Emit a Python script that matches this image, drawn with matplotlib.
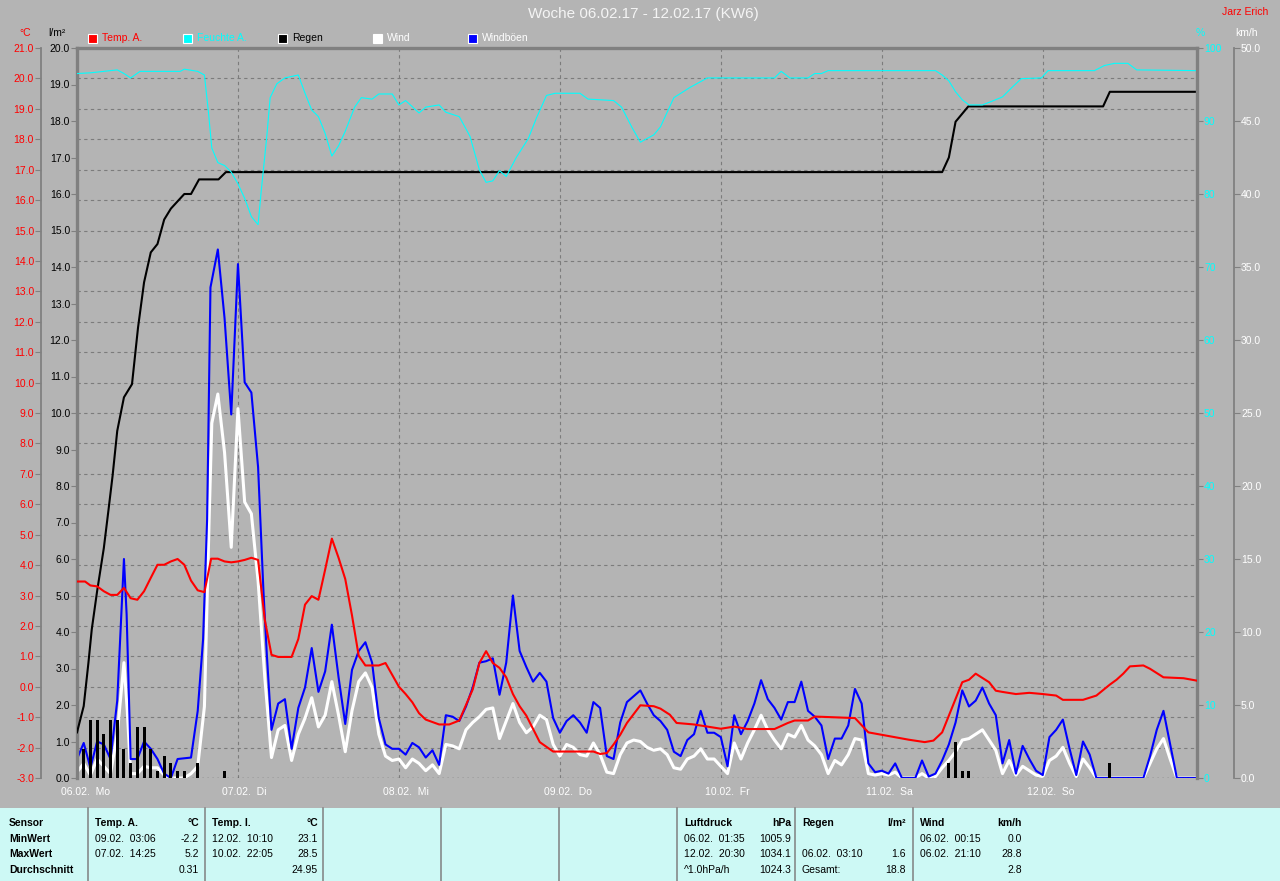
import matplotlib
matplotlib.use("Agg")
import matplotlib.pyplot as plt
from matplotlib.patches import Rectangle
from matplotlib.lines import Line2D
from matplotlib.transforms import offset_copy

plt.rcParams['font.family'] = ['Liberation Sans', 'DejaVu Sans']

# ---- Daten (Stunden ab 06.02. 00:00) ----
day_labels = ["06.02.  Mo", "07.02.  Di", "08.02.  Mi", "09.02.  Do", "10.02.  Fr", "11.02.  Sa", "12.02.  So"]
day_hours = [0, 24, 48, 72, 96, 120, 144]

temp_hours = [0, 1.2, 2, 3, 4, 5, 6, 7, 8, 9, 10, 11, 12, 13, 14, 15, 16, 17, 18, 19, 20, 21, 22, 23, 24, 25, 26, 27,
              28, 29, 30, 32, 33, 34, 35, 36, 37, 38, 39, 40, 41, 42, 43, 45, 46, 47, 48, 49, 50, 51, 52, 53, 54, 55.5,
              57, 59, 60, 61, 62, 63, 64, 65, 66, 67, 69, 71, 77, 78, 79, 80, 81, 82, 84, 86, 87, 88.4, 89.4, 92, 94,
              96, 98, 100, 104, 106, 107, 109, 110, 116, 118, 120, 122, 124, 126.4, 127.7, 129, 130, 132, 133, 134,
              136, 137, 138, 140, 142, 144, 146, 147, 150, 152, 154, 155, 156, 157, 159, 160, 162, 165, 167]
temp_vals = [3.46, 3.46, 3.33, 3.30, 3.14, 3.02, 3.02, 3.25, 2.91, 2.86, 3.14, 3.58, 4.01, 4.01, 4.12, 4.20, 4.01, 3.49,
             3.17, 3.11, 4.21, 4.21, 4.12, 4.09, 4.12, 4.17, 4.24, 4.17, 2.20, 1.05, 0.98, 0.98, 1.57, 2.70, 2.98, 2.86,
             3.85, 4.87, 4.24, 3.54, 2.35, 1.02, 0.70, 0.70, 0.78, 0.39, 0.0, -0.24, -0.51, -0.87, -1.08, -1.16, -1.24,
             -1.24, -1.11, -0.09, 0.78, 1.17, 0.78, 0.62, 0.31, -0.24, -0.64, -0.95, -1.82, -2.13, -2.13, -2.21, -2.18,
             -1.90, -1.58, -1.19, -0.61, -0.64, -0.72, -0.92, -1.19, -1.24, -1.31, -1.38, -1.31, -1.39, -1.39, -1.19,
             -1.11, -1.11, -0.98, -1.03, -1.50, -1.58, -1.66, -1.74, -1.82, -1.77, -1.50, -0.95, 0.15, 0.23, 0.43, 0.15,
             -0.13, -0.17, -0.24, -0.20, -0.24, -0.29, -0.43, -0.43, -0.29, 0.07, 0.23, 0.43, 0.67, 0.70, 0.59, 0.31,
             0.28, 0.20]

hum_hours = [0, 2, 4, 6, 7, 8, 9.4, 12, 15.4, 16, 18, 19, 19.6, 20.1, 21, 22, 23, 24, 25, 26, 27, 27.5, 28.3, 28.8,
             29.8, 31, 33, 34, 35, 36, 37, 38, 39, 40, 41.4, 42.4, 44, 45, 47, 48, 49, 51, 52, 54, 55, 57, 58.6, 60,
             61, 62, 63, 64, 65.5, 67.3, 68.5, 70, 71.3, 75, 76.2, 80, 81.2, 82.7, 84, 86, 87, 89, 91.4, 94, 104, 105,
             106.3, 109, 110, 111, 112, 128, 129, 130, 131, 132, 133, 135, 136.4, 138, 139.3, 140.8, 143.8, 144.8,
             151.7, 153.2, 154.7, 156.7, 158, 167]
hum_vals = [96.5, 96.6, 96.8, 97.0, 96.5, 95.9, 96.8, 96.8, 96.8, 97.1, 96.8, 96.3, 91.2, 86.3, 84.3, 83.9, 83.0, 81.4,
            79.4, 76.9, 75.8, 80.7, 87.9, 93.2, 95.1, 95.9, 96.3, 93.8, 91.5, 90.6, 88.3, 85.2, 86.6, 88.6, 91.9, 93.2,
            93.0, 93.7, 93.7, 92.2, 92.8, 91.1, 91.9, 92.2, 91.2, 90.6, 87.9, 83.3, 81.6, 81.8, 83.2, 82.4, 85.0, 87.6,
            90.4, 93.5, 93.8, 93.8, 93.0, 92.8, 91.9, 89.2, 87.1, 88.1, 89.2, 93.2, 94.6, 95.9, 95.9, 96.8, 95.9, 95.9,
            96.5, 96.5, 96.9, 96.9, 96.3, 95.5, 94.0, 92.9, 92.2, 92.2, 92.7, 93.3, 94.5, 95.8, 95.9, 96.9, 96.9, 97.6,
            97.9, 97.9, 97.0, 96.9]

rain_sum_hours = [0, 1, 1.7, 2.2, 3, 4, 4.7, 5.3, 6, 7, 8.2, 9.1, 10, 11, 12, 13, 14, 15, 16, 17, 18.2, 21.1, 22.2,
                  129, 130, 131, 132.9, 153, 154, 167]
rain_sum = [1.25, 1.97, 3.15, 4.07, 5.12, 6.30, 7.35, 8.27, 9.51, 10.43, 10.79, 12.34, 13.58, 14.4, 14.63, 15.3, 15.6,
            15.8, 16.0, 16.0, 16.4, 16.4, 16.6, 16.6, 17.0, 17.98, 18.4, 18.4, 18.8, 18.8]

rain_bar_hours = [1, 2, 3, 4, 5, 6, 7, 8, 9, 10, 11, 12, 13, 14, 15, 16, 18, 22, 130, 131, 132, 133, 154]
rain_bar_vals = [0.8, 1.6, 1.6, 1.2, 1.6, 1.6, 0.8, 0.4, 1.4, 1.4, 0.8, 0.2, 0.6, 0.4, 0.2, 0.2, 0.4, 0.2,
                 0.4, 1.0, 0.2, 0.2, 0.4]

gust_hours = [0, 1, 2, 3, 4, 5, 6, 7, 7.4, 8, 9, 10, 11, 12, 13, 14, 15, 17, 18, 18.8, 19.4, 19.9, 21, 22, 23, 24, 25,
              26, 27, 27.8, 28.3, 29, 30, 31, 32, 33, 34, 35, 36, 37, 38, 39, 40, 41, 42, 43, 44, 45, 46, 47, 48, 49,
              50, 51, 52, 53, 54, 55, 56, 57, 58, 59, 60, 61, 62, 63, 64, 65, 66, 67, 68, 69, 70, 71, 72, 73, 74, 75,
              76, 77, 78, 79, 80, 81, 82, 83, 84, 85, 86, 87, 88, 89, 90, 91, 92, 93, 94, 95, 96, 97, 98, 99, 100,
              101, 102, 103, 104, 105, 106, 107, 108, 109, 110, 111, 112, 113, 114, 115, 116, 117, 118, 119, 120, 121,
              122, 123, 125, 126, 127, 128, 129, 130, 131, 132, 133, 134, 135, 136, 137, 138, 139, 140, 141, 142, 143,
              144, 145, 146, 147, 148, 149, 150, 151, 152, 159, 160, 161, 162, 163, 164, 167]
gust_vals = [1.3, 2.4, 0.7, 2.5, 2.3, 1.3, 5.3, 15.0, 11.2, 1.3, 1.3, 2.5, 2.0, 1.3, 0.3, 0.0, 1.3, 1.4, 4.6, 9.5, 17.7,
             33.6, 36.2, 31.5, 24.9, 35.2, 27.1, 26.4, 21.3, 12.8, 8.5, 3.3, 5.1, 5.4, 2.0, 4.8, 6.2, 8.9, 5.9, 7.3,
             10.5, 6.9, 3.7, 7.4, 8.7, 9.3, 7.9, 4.1, 2.3, 2.0, 2.0, 1.6, 2.4, 2.1, 1.4, 1.9, 0.9, 4.3, 4.2, 3.9, 4.9,
             6.2, 7.9, 8.0, 8.2, 5.7, 7.9, 12.5, 8.7, 7.6, 6.6, 7.2, 6.6, 4.1, 3.1, 3.9, 4.3, 3.8, 3.1, 5.2, 4.8, 1.5,
             1.3, 3.8, 5.2, 5.6, 6.0, 5.1, 4.3, 3.9, 3.3, 1.8, 1.5, 2.6, 3.0, 4.6, 3.1, 3.1, 2.8, 0.8, 4.3, 3.0, 3.9,
             5.1, 6.7, 5.4, 4.8, 4.0, 5.2, 5.2, 6.6, 4.6, 4.2, 3.6, 1.3, 2.7, 2.7, 3.6, 6.1, 5.1, 1.0, 0.4, 0.5, 0.3,
             1.0, 0.0, 0.0, 1.2, 0.1, 0.3, 1.2, 2.3, 3.8, 6.0, 4.9, 5.3, 6.2, 5.1, 4.3, 1.0, 2.6, 0.3, 2.2, 1.3, 0.5,
             0.2, 2.8, 3.3, 4.0, 2.0, 0.2, 2.5, 1.6, 0.0, 0.0, 1.5, 3.3, 4.6, 2.3, 0.0, 0.0]

wind_hours = [0, 1, 2, 3, 4, 5, 6, 7, 7.5, 8, 9, 10, 11, 12, 13, 14, 16, 17, 18, 19, 19.7, 20.1, 21, 22, 23, 24, 25,
              26, 27, 28, 29, 30, 31, 32, 33, 34, 35, 36, 37, 38, 39, 40, 41, 42, 43, 44, 45, 46, 47, 48, 49, 50, 51,
              52, 53, 54, 55, 56, 57, 58, 59, 60, 61, 62, 63, 64, 65, 66, 67, 68, 69, 70, 71, 72, 73, 74, 75, 76, 77,
              78, 79, 80, 81, 82, 83, 84, 85, 86, 87, 88, 89, 90, 91, 92, 93, 94, 95, 96, 97, 98, 99, 100, 101, 102,
              103, 104, 105, 106, 107, 108, 109, 110, 111, 112, 113, 114, 115, 116, 117, 118, 119, 120, 121, 122, 123,
              125, 126, 127, 128, 129, 130, 131, 132, 133, 134, 135, 136, 137, 138, 139, 140, 141, 142, 143, 144, 145,
              146, 147, 148, 149, 150, 151, 152, 159, 160, 161, 162, 163, 164, 167]
wind_vals = [0.4, 1.0, 0.2, 1.3, 0.8, 0.3, 3.0, 7.9, 4.6, 0.3, 0.3, 0.8, 0.7, 0.7, 0.2, 0.0, 0.0, 0.3, 0.8, 4.9, 17.7,
             24.3, 26.3, 22.3, 15.8, 25.3, 18.9, 18.1, 13.5, 6.9, 1.4, 3.3, 3.6, 1.2, 3.0, 4.1, 5.5, 3.5, 4.3, 6.6, 4.3,
             1.8, 4.6, 6.6, 7.2, 6.2, 3.0, 1.5, 1.2, 1.3, 0.7, 1.3, 1.0, 0.5, 0.9, 0.3, 2.3, 2.2, 2.0, 3.3, 3.8, 4.2,
             4.7, 4.8, 2.7, 3.9, 5.1, 3.8, 3.1, 3.5, 4.3, 4.0, 2.3, 1.5, 2.3, 2.1, 1.6, 1.5, 2.4, 1.6, 0.4, 0.3, 1.6,
             2.4, 2.6, 2.5, 2.1, 1.9, 2.0, 1.6, 0.7, 0.6, 1.3, 1.5, 2.0, 1.3, 1.3, 0.8, 0.3, 2.4, 1.3, 2.4, 3.3, 4.3,
             3.3, 2.6, 2.0, 3.0, 2.8, 3.6, 2.6, 2.2, 1.6, 0.3, 1.2, 0.9, 1.6, 2.7, 2.6, 0.3, 0.2, 0.3, 0.2, 0.4, 0.0,
             0.0, 0.3, 0.0, 0.1, 0.7, 1.2, 1.8, 2.6, 2.7, 3.0, 3.3, 2.6, 1.9, 0.3, 1.2, 0.2, 0.8, 0.5, 0.2, 0.1, 1.2,
             1.5, 2.1, 1.0, 0.1, 1.3, 0.7, 0.0, 0.0, 1.0, 2.0, 2.7, 1.3, 0.0, 0.0]

temp_ticks = list(range(-3, 22))
rain_ticks = list(range(0, 21))
hum_ticks = list(range(0, 101, 10))
wind_ticks = list(range(0, 51, 5))

legend_items = [("Temp. A.", "#ff0000", "#ff0000"), ("Feuchte A.", "#00ffff", "#00ffff"),
                ("Regen", "#000000", "#000000"), ("Wind", "#ffffff", "#ffffff"), ("Windböen", "#0000ff", "#ffffff")]

table_cols = [
    (95, 199, "Temp. A.", "°C", [("09.02.  03:06", "-2.2"), ("07.02.  14:25", "5.2"), ("", "0.31")]),
    (212, 318, "Temp. I.", "°C", [("12.02.  10:10", "23.1"), ("10.02.  22:05", "28.5"), ("", "24.95")]),
    (684, 791, "Luftdruck", "hPa", [("06.02.  01:35", "1005.9"), ("12.02.  20:30", "1034.1"), ("^1.0hPa/h", "1024.3")]),
    (802, 906, "Regen", "l/m²", [("", ""), ("06.02.  03:10", "1.6"), ("Gesamt:", "18.8")]),
    (920, 1022, "Wind", "km/h", [("06.02.  00:15", "0.0"), ("06.02.  21:10", "28.8"), ("", "2.8")]),
]
row_labels = ["Sensor", "MinWert", "MaxWert", "Durchschnitt"]

# ---- Layout ----
W, H = 1280, 881
BG = '#b4b4b4'
GRAY = '#808080'


def fx(x):
    return x / W


def fy(y):
    return 1 - y / H


fig = plt.figure(figsize=(12.8, 8.81), dpi=100, facecolor=BG)
rect = [fx(77), fy(778), (1197 - 77) / W, (778 - 48) / H]

# Temperatur-Achse (Host, mit Gitter)
ax = fig.add_axes(rect)
ax.set_facecolor(BG)
ax.set_xlim(0, 167)
ax.set_ylim(-3, 21)
for t in temp_ticks[1:-1]:
    ax.axhline(t, color='#7c7c7c', lw=0.8, ls=(0, (3, 3)), zorder=1)
for d in day_hours[1:]:
    ax.axvline(d, color='#7c7c7c', lw=0.8, ls=(0, (3, 3)), zorder=1)
for s in ['top', 'right', 'bottom']:
    ax.spines[s].set_visible(False)
ax.spines['left'].set_position(('axes', -36 / 1120))
ax.spines['left'].set_color(GRAY)
ax.spines['left'].set_linewidth(1.3)
ax.set_yticks(temp_ticks)
ax.set_yticklabels([f"{t:.1f}" for t in temp_ticks])
ax.tick_params(axis='y', colors=GRAY, labelcolor='#ff0000', labelsize=7.5, length=4, pad=1)
ax.set_xticks([])

# Wind-Achse (km/h)
axW = ax.twinx()
axW.set_ylim(0, 50)
for s in ['left', 'top', 'bottom']:
    axW.spines[s].set_visible(False)
axW.spines['right'].set_position(('axes', 1 + 37 / 1120))
axW.spines['right'].set_color(GRAY)
axW.spines['right'].set_linewidth(1.3)
axW.set_yticks(wind_ticks)
axW.set_yticklabels([f"{w:.1f}" for w in wind_ticks])
axW.tick_params(axis='y', colors=GRAY, labelcolor='white', labelsize=7.5, length=4, pad=1)
axW.plot(gust_hours, gust_vals, color='#0000ff', lw=1.5, zorder=3)
axW.plot(wind_hours, wind_vals, color='white', lw=2.2, zorder=2)

# Regen-Achse (Balken über den Windlinien)
axR = ax.twinx()
axR.set_ylim(0, 20)
axR.yaxis.set_ticks_position('left')
axR.yaxis.set_label_position('left')
for s in ['right', 'bottom']:
    axR.spines[s].set_visible(False)
axR.spines['left'].set_color(GRAY)
axR.spines['left'].set_linewidth(2.4)
axR.spines['top'].set_color(GRAY)
axR.spines['top'].set_linewidth(2.4)
axR.set_yticks(rain_ticks)
axR.set_yticklabels([f"{r:.1f}" for r in rain_ticks])
axR.tick_params(axis='y', colors=GRAY, labelcolor='black', labelsize=7.5, length=4, pad=1)
axR.axhline(0, color='black', lw=0.9, ls=(0, (1, 3)), zorder=2)
axR.bar(rain_bar_hours, rain_bar_vals, width=0.45, color='black', zorder=3)
axR.plot(rain_sum_hours, rain_sum, color='black', lw=1.5, zorder=4)

# Feuchte-Achse (%)
axH = ax.twinx()
axH.set_ylim(0, 100)
for s in ['left', 'top', 'bottom']:
    axH.spines[s].set_visible(False)
axH.spines['right'].set_color(GRAY)
axH.spines['right'].set_linewidth(2.4)
axH.set_yticks(hum_ticks)
axH.set_yticklabels([str(h) for h in hum_ticks])
axH.tick_params(axis='y', colors=GRAY, labelcolor='#00ffff', labelsize=7.5, length=4, pad=1)
axH.plot(hum_hours, hum_vals, color='#00ffff', lw=0.8)

# Temperaturkurve oben drauf
axT = ax.twinx()
axT.set_ylim(-3, 21)
axT.axis('off')
axT.plot(temp_hours, temp_vals, color='#ff0000', lw=1.5)

for a in (ax, axR, axW, axH, axT):
    a.set_xlim(0, 167)
    a.set_xticks([])

# Tagesbeschriftung
trans = offset_copy(ax.get_xaxis_transform(), fig=fig, x=-16, y=-14, units='dots')
for d, lab in zip(day_hours, day_labels):
    ax.text(d, 0, lab, transform=trans, ha='left', va='center', color='white', fontsize=7.5)

# Titel, Einheiten
fig.text(fx(643), fy(14), "Woche 06.02.17 - 12.02.17 (KW6)", ha='center', va='center', color='#f4f4f4', fontsize=11)
fig.text(fx(1268), fy(12), "Jarz Erich", ha='right', va='center', color='#ff0000', fontsize=7.5)
fig.text(fx(25), fy(33), "°C", ha='center', va='center', color='#ff0000', fontsize=7.5)
fig.text(fx(57), fy(33), "l/m²", ha='center', va='center', color='black', fontsize=7.5)
fig.text(fx(1200), fy(33), "%", ha='center', va='center', color='#00ffff', fontsize=7.5)
fig.text(fx(1246), fy(33), "km/h", ha='center', va='center', color='white', fontsize=7.5)

# Legende
for i, (name, col, tcol) in enumerate(legend_items):
    x0 = 88 + i * 95
    fig.patches.append(Rectangle((fx(x0), fy(43)), 9 / W, 9 / H, transform=fig.transFigure,
                                 facecolor=col, edgecolor='white', lw=0.8))
    fig.text(fx(x0 + 14), fy(38), name, ha='left', va='center', color=tcol, fontsize=7.5)

# Tabelle unten
fig.patches.append(Rectangle((0, 0), 1, fy(808), transform=fig.transFigure, facecolor='#cdf9f5',
                             edgecolor='none'))
for xs in [88, 205, 323, 441, 559, 677, 795, 913]:
    fig.lines.append(Line2D([fx(xs), fx(xs)], [0, fy(808)], transform=fig.transFigure, color=GRAY, lw=1.1))
row_y = [823, 839, 854, 870]
for lab, y in zip(row_labels, row_y):
    fig.text(fx(9), fy(y), lab, ha='left', va='center', color='black', fontsize=7.5, fontweight='bold')
for xl, xr, head, unit, rows in table_cols:
    fig.text(fx(xl), fy(row_y[0]), head, ha='left', va='center', color='black', fontsize=7.5, fontweight='bold')
    fig.text(fx(xr), fy(row_y[0]), unit, ha='right', va='center', color='black', fontsize=7.5, fontweight='bold')
    for (left, right), y in zip(rows, row_y[1:]):
        fig.text(fx(xl), fy(y), left, ha='left', va='center', color='black', fontsize=7.5)
        fig.text(fx(xr), fy(y), right, ha='right', va='center', color='black', fontsize=7.5)

fig.savefig('out.png', dpi=100, facecolor=fig.get_facecolor())
